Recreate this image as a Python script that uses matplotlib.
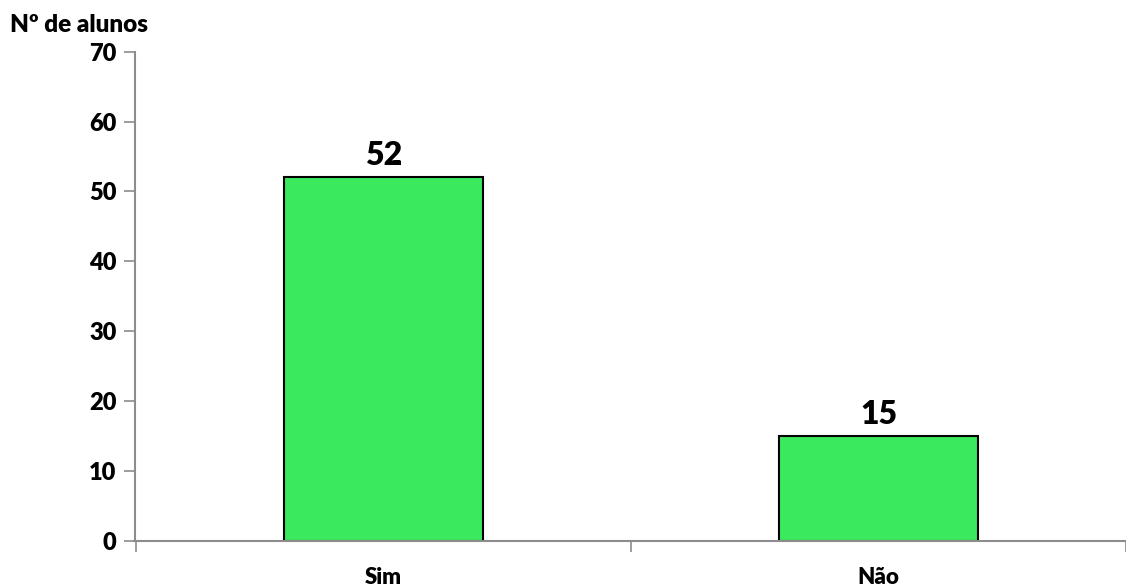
import matplotlib
matplotlib.use("Agg")
import matplotlib.pyplot as plt

categories = ["Sim", "Não"]
values = [52, 15]
yticks = [0, 10, 20, 30, 40, 50, 60, 70]

plt.rcParams['font.family'] = ['Lato', 'DejaVu Sans']
plt.rcParams['font.weight'] = 'bold'

fig = plt.figure(figsize=(11.26, 5.88), dpi=100)
ax = fig.add_axes([134.5/1126, (588-540.7)/588, (1126-134.5)/1126, (540.7-51.7)/588])

axis_color = '#8c8c8c'
x = list(range(len(categories)))
bars = ax.bar(x, values, width=0.402, color='#3aea5c', edgecolor='black', linewidth=1.5, zorder=3)

for xi, v in zip(x, values):
    ax.annotate(str(v), (xi, v), xytext=(0, 5), textcoords='offset points',
                ha='center', va='bottom', fontsize=23, fontweight='heavy', color='black')

ax.set_ylim(0, 70)
ax.set_xlim(-0.5037, 1.487)
ax.set_yticks(yticks)
ax.set_yticklabels([str(t) for t in yticks], fontsize=17, fontweight='heavy')

ax.set_xticks([-0.5, 0.5, 1.5])
ax.set_xticklabels([])
ax.set_xticks(x, minor=True)
ax.set_xticklabels(categories, minor=True, fontsize=16, fontweight='heavy')
ax.tick_params(axis='x', which='minor', length=0, pad=19)
ax.tick_params(axis='x', which='major', length=8, width=1.2, color=axis_color, direction='out')
ax.tick_params(axis='y', length=8, width=1.2, color=axis_color, direction='out', pad=5)

for side in ['top', 'right']:
    ax.spines[side].set_visible(False)
for side in ['left', 'bottom']:
    ax.spines[side].set_color(axis_color)
    ax.spines[side].set_linewidth(1.5)
    ax.spines[side].set_zorder(4)

fig.text(10/1126, 1 - 25/588, "Nº de alunos", fontsize=17.5, fontweight='heavy',
         ha='left', va='center')

fig.savefig("out.png", dpi=100)
